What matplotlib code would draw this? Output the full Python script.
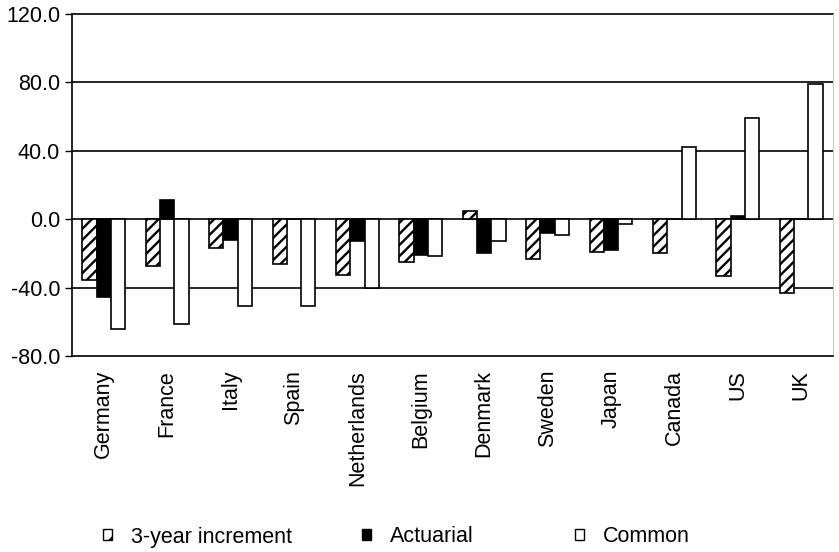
import numpy as np
import matplotlib
matplotlib.use("Agg")
import matplotlib.pyplot as plt
from matplotlib.patches import Patch

# values
countries = ['Germany', 'France', 'Italy', 'Spain', 'Netherlands', 'Belgium',
             'Denmark', 'Sweden', 'Japan', 'Canada', 'US', 'UK']
increment = [-35.5, -27.5, -17.0, -26.0, -32.5, -25.0, 5.0, -23.5, -19.0, -20.0, -33.0, -43.0]
actuarial = [-45.5, 11.5, -12.0, 0.0, -13.0, -21.0, -20.0, -8.0, -18.0, 0.0, 2.0, 0.0]
common = [-64.0, -61.0, -51.0, -50.5, -40.5, -21.5, -13.0, -9.0, -3.0, 42.5, 59.0, 79.0]
yticks = [-80, -40, 0, 40, 80, 120]
ytick_labels = ['-80.0', '-40.0', '0.0', '40.0', '80.0', '120.0']
series_names = ['3-year increment', 'Actuarial', 'Common']

plt.rcParams['font.family'] = ['Liberation Sans', 'DejaVu Sans']
plt.rcParams['hatch.linewidth'] = 1.7
FS = 15.5

fig = plt.figure(figsize=(8.39, 5.52), dpi=100)
ax = fig.add_axes([72 / 839, (552 - 356) / 552, (833 - 72) / 839, 342 / 552])

x = np.arange(len(countries))
w = 0.225
ax.bar(x - w, increment, w, color='white', edgecolor='black', hatch='///', linewidth=1.2, zorder=3)
ax.bar(x, actuarial, w, color='black', edgecolor='black', linewidth=1.2, zorder=3)
ax.bar(x + w, common, w, color='white', edgecolor='black', linewidth=1.2, zorder=3)

ax.set_xlim(-0.5, len(countries) - 0.5)
ax.set_ylim(-80, 120)
for y in [-40, 0, 40, 80, 120]:
    ax.axhline(y, color='black', linewidth=1.2, zorder=1, clip_on=False)

ax.set_yticks(yticks)
ax.set_yticklabels(ytick_labels, fontsize=FS)
ax.tick_params(axis='y', direction='out', length=5, width=1, pad=3.5)
ax.set_xticks(x)
ax.set_xticklabels(countries, rotation=90, fontsize=FS, va='top', ha='center')
ax.tick_params(axis='x', length=0, pad=10)

ax.spines['top'].set_visible(False)
ax.spines['right'].set_color('#c8c8c8')
ax.spines['left'].set_linewidth(1.2)
ax.spines['bottom'].set_linewidth(1.2)

# legend entries sit at fixed spots along the bottom, like the original
handles = [Patch(facecolor='white', edgecolor='black', hatch='//', linewidth=1.0),
           Patch(facecolor='black', edgecolor='black'),
           Patch(facecolor='white', edgecolor='black', linewidth=1.0)]
legend_x = [103, 362, 575]
for h, name, lx in zip(handles, series_names, legend_x):
    fig.legend([h], [name], loc='center left', frameon=False,
               bbox_to_anchor=(lx / 839, (552 - 537) / 552), fontsize=FS,
               handlelength=0.42, handleheight=0.42, handletextpad=0.88,
               borderpad=0, borderaxespad=0)

fig.savefig('out.png', dpi=100)
